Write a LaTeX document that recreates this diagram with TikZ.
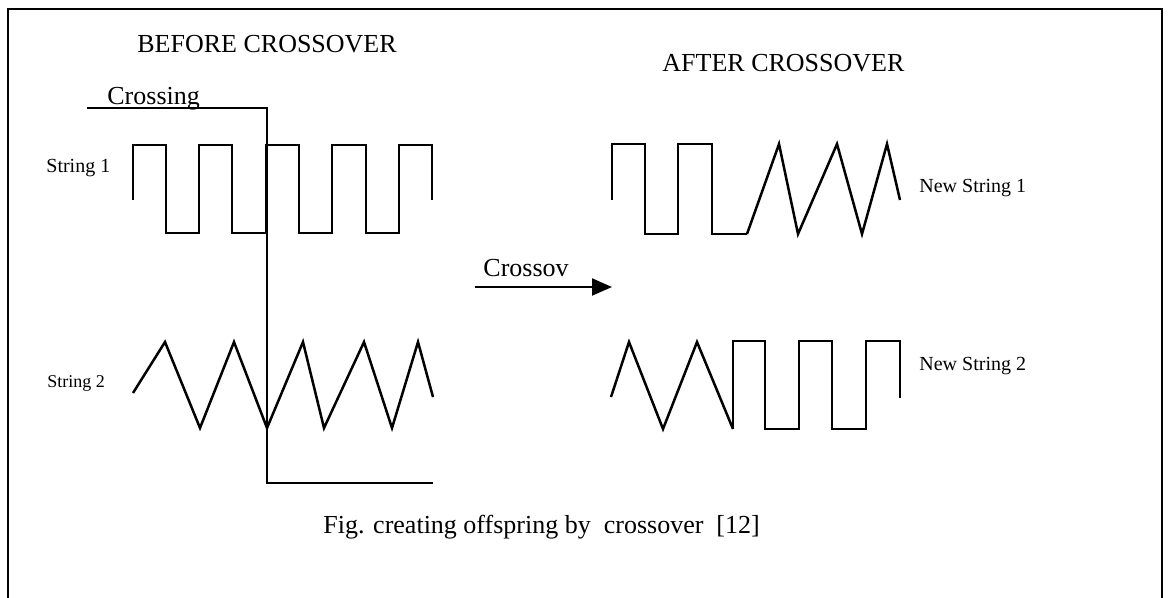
\documentclass[tikz,border=0pt]{standalone}
\usepackage{fontspec}
\setmainfont{Liberation Serif}
\usetikzlibrary{arrows.meta}

\tikzset{
  bigtext/.style={anchor=base west, inner sep=0pt, font=\fontsize{13}{15}\selectfont},
  smalltext/.style={anchor=base west, inner sep=0pt, font=\fontsize{10}{12}\selectfont},
  sqwave/.style={line width=0.8pt},
  triwave/.style={line width=1.25pt},
}

\begin{document}
\begin{tikzpicture}[x=0.5pt, y=-0.5pt]
    \useasboundingbox (0,0) rectangle (1170,598);
    \draw[line width=0.75pt] (8,598) -- (8,9) -- (1162,9) -- (1162,598);

    \node[bigtext] (before) at (137,53) {BEFORE CROSSOVER};
    \node[bigtext] (after) at (662,72) {AFTER CROSSOVER};
    \node[bigtext] (crossing) at (107,105) {Crossing};
    \node[smalltext] (str1) at (46,173) {String 1};
    \node[smalltext, font=\fontsize{9}{11}\selectfont] (str2) at (47,387) {String 2};
    \node[smalltext] (newstr1) at (919,193) {New String 1};
    \node[smalltext] (newstr2) at (919,370) {New String 2};
    \node[bigtext] (crossov) at (483,277) {Crossov};
    \node[bigtext] (caption) at (323,533) {Fig. creating offspring by\ \ crossover\ \ [12]};

    % crossing point
    \draw[line width=0.75pt] (87,108) -- (267,108) -- (267,483) -- (433,483);

    % parents
    \draw[sqwave] (133,200) -- (133,145) -- (166,145) -- (166,233) -- (199,233) -- (199,145)
        -- (232,145) -- (232,233) -- (266,233) -- (266,145) -- (299,145) -- (299,233)
        -- (332,233) -- (332,145) -- (366,145) -- (366,233) -- (399,233) -- (399,145)
        -- (432,145) -- (432,200);
    \draw[triwave] (133,393) -- (165,342) -- (200,428) -- (234,342) -- (267,428) -- (303,342)
        -- (324,428) -- (364,342) -- (392,428) -- (418,342) -- (433,397);

    % arrow
    \coordinate (arrstart) at (475,287);
    \coordinate (arrend) at (612,287);
    \draw[line width=1pt, -{Triangle[length=10pt, width=8.5pt]}] (arrstart) -- (arrend);

    % offspring
    \draw[sqwave] (612,200) -- (612,144) -- (645,144) -- (645,234) -- (678,234) -- (678,144)
        -- (712,144) -- (712,234) -- (747,234);
    \draw[triwave] (747,234) -- (779,144) -- (798,234) -- (837,144) -- (862,234) -- (887,144)
        -- (900,200);
    \draw[triwave] (611,397) -- (629,342) -- (663,429) -- (697,342) -- (733,429);
    \draw[sqwave] (733,429) -- (733,341) -- (765,341) -- (765,429) -- (799,429) -- (799,341)
        -- (832,341) -- (832,429) -- (866,429) -- (866,341) -- (900,341) -- (900,398);

\end{tikzpicture}
\end{document}
